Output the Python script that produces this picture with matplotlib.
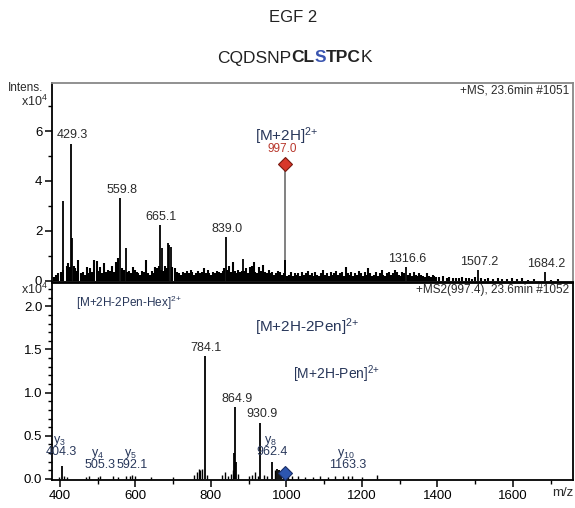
import matplotlib
matplotlib.use("Agg")
import matplotlib.pyplot as plt
from matplotlib.ticker import MultipleLocator, FormatStrFormatter
from matplotlib.offsetbox import TextArea, HPacker, AnnotationBbox
import matplotlib.transforms as mtransforms

plt.rcParams['font.family'] = ['Liberation Sans', 'DejaVu Sans']
plt.rcParams['mathtext.fontset'] = 'custom'
plt.rcParams['mathtext.rm'] = 'Liberation Sans'
plt.rcParams['mathtext.it'] = 'Liberation Sans:italic'
plt.rcParams['mathtext.bf'] = 'Liberation Sans:bold'

# ---------------- data (intensities in units of 1e4) ----------------
ms1_peak_mz = [409, 429.3, 433, 559.8, 575, 665.1, 670, 686, 690, 694, 839.0, 885, 1316.6, 1507.2, 1684.2]
ms1_peak_int = [3.2, 5.5, 1.7, 3.3, 1.3, 2.25, 1.3, 1.5, 1.45, 1.35, 1.75, 0.88, 0.56, 0.44, 0.36]
ms1_prec_peak_mz = [997.0]
ms1_prec_peak_int = [0.84]

ms1_noise_mz = [
    384, 390, 396, 402, 407, 418, 422, 426, 437, 440,
    444, 449, 455, 461, 466, 471, 476, 481, 486, 491,
    497, 502, 507, 512, 518, 523, 528, 533, 538, 543,
    548, 553, 564, 569, 578, 583, 588, 593, 598, 603,
    608, 613, 618, 623, 628, 633, 638, 643, 648, 653,
    658, 662, 668, 674, 679, 684, 698, 706, 711, 716,
    721, 726, 731, 736, 741, 746, 751, 756, 761, 766,
    771, 776, 781, 786, 791, 796, 801, 806, 811, 816,
    821, 826, 831, 836, 843, 848, 853, 858, 863, 868,
    873, 878, 883, 888, 893, 898, 903, 908, 913, 918,
    923, 928, 933, 938, 943, 948, 953, 958, 963, 968,
    973, 978, 983, 988, 993, 1002, 1007, 1012, 1017, 1022,
    1027, 1032, 1037, 1042, 1047, 1052, 1057, 1062, 1067, 1072,
    1077, 1082, 1087, 1092, 1097, 1102, 1107, 1112, 1117, 1122,
    1127, 1132, 1137, 1142, 1147, 1152, 1157, 1162, 1167, 1172,
    1177, 1182, 1187, 1192, 1197, 1202, 1207, 1212, 1217, 1222,
    1227, 1232, 1237, 1242, 1247, 1252, 1257, 1262, 1267, 1272,
    1277, 1282, 1287, 1292, 1297, 1302, 1307, 1312, 1322, 1327,
    1332, 1337, 1342, 1347, 1352, 1357, 1362, 1367, 1372, 1377,
    1382, 1387, 1392, 1397, 1405, 1415, 1425, 1432, 1440, 1450,
    1458, 1466, 1475, 1484, 1492, 1500, 1515, 1525, 1535, 1548,
    1560, 1572, 1585, 1598, 1612, 1625, 1640, 1655, 1700, 1720,
]
ms1_noise_int = [
    0.15, 0.25, 0.30, 0.35, 0.45, 0.60, 0.70, 0.55, 0.60, 0.50,
    0.40, 0.85, 0.30, 0.35, 0.25, 0.55, 0.30, 0.50, 0.35, 0.85,
    0.80, 0.40, 0.55, 0.30, 0.70, 0.35, 0.45, 0.40, 0.60, 0.35,
    0.75, 0.90, 0.50, 0.45, 0.35, 0.40, 0.30, 0.55, 0.45, 0.35,
    0.30, 0.25, 0.40, 0.35, 0.85, 0.30, 0.25, 0.40, 0.30, 0.55,
    0.50, 0.60, 0.45, 0.40, 0.60, 0.50, 0.55, 0.50, 0.35, 0.30,
    0.25, 0.35, 0.30, 0.40, 0.30, 0.45, 0.35, 0.25, 0.30, 0.40,
    0.30, 0.35, 0.50, 0.30, 0.45, 0.30, 0.25, 0.35, 0.30, 0.40,
    0.35, 0.30, 0.40, 0.50, 0.45, 0.60, 0.35, 0.75, 0.40, 0.30,
    0.45, 0.35, 0.40, 0.40, 0.50, 0.30, 0.55, 0.60, 0.75, 0.35,
    0.30, 0.55, 0.40, 0.65, 0.35, 0.30, 0.45, 0.30, 0.35, 0.25,
    0.30, 0.40, 0.35, 0.25, 0.30, 0.20, 0.25, 0.35, 0.20, 0.30,
    0.25, 0.30, 0.20, 0.35, 0.25, 0.30, 0.40, 0.25, 0.30, 0.20,
    0.35, 0.25, 0.20, 0.30, 0.45, 0.25, 0.30, 0.20, 0.35, 0.25,
    0.30, 0.40, 0.25, 0.30, 0.35, 0.20, 0.55, 0.30, 0.25, 0.35,
    0.20, 0.30, 0.25, 0.40, 0.30, 0.20, 0.35, 0.25, 0.50, 0.30,
    0.20, 0.25, 0.35, 0.20, 0.30, 0.45, 0.25, 0.20, 0.30, 0.35,
    0.25, 0.30, 0.45, 0.35, 0.25, 0.20, 0.35, 0.30, 0.25, 0.30,
    0.20, 0.35, 0.25, 0.20, 0.30, 0.25, 0.20, 0.15, 0.30, 0.20,
    0.15, 0.25, 0.20, 0.15, 0.15, 0.20, 0.12, 0.15, 0.10, 0.12,
    0.10, 0.15, 0.10, 0.12, 0.08, 0.15, 0.10, 0.08, 0.12, 0.08,
    0.10, 0.06, 0.08, 0.10, 0.06, 0.12, 0.05, 0.08, 0.05, 0.08,
]
ms1_labels = ["429.3", "559.8", "665.1", "839.0", "1316.6", "1507.2", "1684.2"]
ms1_label_mz = [429.3, 559.8, 665.1, 839.0, 1316.6, 1507.2, 1684.2]
ms1_label_int = [5.5, 3.3, 2.25, 1.75, 0.56, 0.44, 0.36]
precursor_mz = 997.0
precursor_int = 4.7

ms2_peak_mz = [404.3, 784.1, 862, 864.9, 867, 930.9, 962.4, 975, 980, 986]
ms2_peak_int = [0.15, 1.42, 0.30, 0.83, 0.20, 0.65, 0.20, 0.12, 0.10, 0.09]
ms2_noise_mz = [398, 412, 420, 470, 478, 500, 505.3, 540, 555, 575,
                585, 592.1, 598, 640, 700, 755, 762, 768, 772, 776,
                790, 830, 838, 845, 852, 858, 872, 900, 910, 918,
                925, 940, 948, 970, 991, 1005, 1015, 1030, 1050, 1070,
                1090, 1110, 1130, 1150, 1163.3, 1175, 1200, 1240]
ms2_noise_int = [0.02, 0.03, 0.02, 0.02, 0.03, 0.02, 0.03, 0.03, 0.02, 0.03,
                 0.04, 0.05, 0.03, 0.02, 0.02, 0.05, 0.08, 0.12, 0.10, 0.12,
                 0.05, 0.05, 0.08, 0.04, 0.06, 0.10, 0.06, 0.03, 0.05, 0.08,
                 0.04, 0.05, 0.04, 0.10, 0.06, 0.05, 0.04, 0.03, 0.02, 0.02,
                 0.03, 0.02, 0.03, 0.04, 0.03, 0.03, 0.02, 0.05]
ms2_labels = ["784.1", "864.9", "930.9"]
ms2_label_mz = [784.1, 864.9, 930.9]
ms2_label_int = [1.42, 0.83, 0.65]
y_ions = ["3", "4", "5", "8", "10"]
y_ion_mz = [404.3, 505.3, 592.1, 962.4, 1163.3]
y_ion_text = ["404.3", "505.3", "592.1", "962.4", "1163.3"]
y_ion_level = [1, 0, 0, 1, 0]
ms2_precursor_mz = 997.4
ms2_precursor_int = 0.07

xticks = [400, 600, 800, 1000, 1200, 1400, 1600]

# ---------------- figure ----------------
fig = plt.figure(figsize=(5.75, 5.08), dpi=100)
ax1 = fig.add_axes([0.0904, 0.4449, 0.906, 0.3917])
ax2 = fig.add_axes([0.0904, 0.0551, 0.906, 0.3878])

navy = '#28375a'
txt = '#2a2a2a'
SUP = "$^{2{+}}$"

for ax in (ax1, ax2):
    ax.set_xlim(379, 1759)
    for s in ax.spines.values():
        s.set_linewidth(1.3)
    ax.tick_params(axis='y', which='major', direction='out', length=5, width=1.1, labelsize=9.5, pad=2)
    ax.tick_params(axis='y', which='minor', direction='out', length=3, width=1.0)

# top panel
ax1.vlines(ms1_noise_mz, 0, ms1_noise_int, color='black', lw=1.5)
ax1.vlines(ms1_peak_mz, 0, ms1_peak_int, color='black', lw=1.3)
ax1.vlines([precursor_mz], 0, [precursor_int], color='#777777', lw=1.3, zorder=3)
ax1.vlines(ms1_prec_peak_mz, 0, ms1_prec_peak_int, color='black', lw=1.4, zorder=3.5)
ax1.plot([precursor_mz], [precursor_int], marker='D', ms=7, mfc='#d8382a', mec='#7a1a10', mew=0.8, zorder=4)
ax1.set_ylim(-0.04, 7.92)
ax1.yaxis.set_major_locator(MultipleLocator(2))
ax1.yaxis.set_minor_locator(MultipleLocator(1))
ax1.yaxis.set_major_formatter(FormatStrFormatter('%d'))
ax1.set_xticks([])
ax1.spines['top'].set_color('#888888')
ax1.spines['right'].set_color('#888888')

for lab, mz, v in zip(ms1_labels, ms1_label_mz, ms1_label_int):
    ax1.annotate(lab, (mz, v), xytext=(1, 1.5), textcoords='offset points',
                 ha='center', va='bottom', fontsize=9, color=txt)
ax1.annotate("997.0", (precursor_mz, precursor_int), xytext=(-2, 6), textcoords='offset points',
             ha='center', va='bottom', fontsize=8.5, color='#b8372c')
ax1.text(916, 5.78, "[M+2H]" + SUP, fontsize=11, color=navy, ha='left', va='center')
ax1.text(0.992, 0.96, "+MS, 23.6min #1051", transform=ax1.transAxes, ha='right', va='center',
         fontsize=8.5, color=txt)

# bottom panel
ax2.vlines(ms2_noise_mz, 0, ms2_noise_int, color='black', lw=1.0)
ax2.vlines(ms2_peak_mz, 0, ms2_peak_int, color='black', lw=1.3)
ax2.plot([ms2_precursor_mz], [ms2_precursor_int], marker='D', ms=7, mfc='#2d56b0', mec='#1a2e66', mew=0.8, zorder=4)
ax2.set_ylim(-0.012, 2.27)
ax2.yaxis.set_major_locator(MultipleLocator(0.5))
ax2.yaxis.set_minor_locator(MultipleLocator(0.1))
ax2.yaxis.set_major_formatter(FormatStrFormatter('%.1f'))
ax2.set_xticks(xticks)
ax2.xaxis.set_minor_locator(MultipleLocator(100))
ax2.tick_params(axis='x', which='major', direction='out', length=5, width=1.1, labelsize=9.5, pad=2)
ax2.tick_params(axis='x', which='minor', direction='out', length=3, width=1.0)

for lab, mz, v in zip(ms2_labels, ms2_label_mz, ms2_label_int):
    ax2.annotate(lab, (mz, v), xytext=(1, 2), textcoords='offset points',
                 ha='center', va='bottom', fontsize=9, color=txt)
for n, mz, t, lvl in zip(y_ions, y_ion_mz, y_ion_text, y_ion_level):
    base = 0.31 if lvl else 0.16
    ax2.text(mz, base, t, ha='center', va='center', fontsize=9, color=navy)
    ax2.text(mz - 5, base + 0.135, "y$_{\\mathrm{" + n + "}}$", ha='center', va='center', fontsize=9, color=navy)

ax2.text(442, 2.04, "[M+2H-2Pen-Hex]" + SUP, fontsize=8.5, color=navy, ha='left', va='center')
ax2.text(917, 1.76, "[M+2H-2Pen]" + SUP, fontsize=11, color=navy, ha='left', va='center')
ax2.text(1017, 1.21, "[M+2H-Pen]" + SUP, fontsize=10, color=navy, ha='left', va='center')
ax2.text(0.992, 0.964, "+MS2(997.4), 23.6min #1052", transform=ax2.transAxes, ha='right', va='center',
         fontsize=8.5, color=txt)
trans = mtransforms.blended_transform_factory(ax2.transData, ax2.transAxes)
ax2.text(1732, -0.065, "m/z", transform=trans, ha='center', va='center', fontsize=9.5, color=txt)

# axis unit labels
fig.text(8 / 575, 1 - 88 / 508, "Intens.", ha='left', va='center', fontsize=8.5, color=txt)
fig.text(48 / 575, 1 - 101 / 508, "x10$^{\\mathrm{4}}$", ha='right', va='center', fontsize=9, color=txt)
fig.text(48 / 575, 1 - 289 / 508, "x10$^{\\mathrm{4}}$", ha='right', va='center', fontsize=9, color=txt)

# titles
fig.text(0.51, 1 - 18 / 508, "EGF 2", ha='center', va='center', fontsize=12, color='#222222')
seq_parts = [("CQDSNP", 'normal', '#222222'), ("CL", 'bold', '#222222'), ("S", 'bold', '#3a55b0'),
             ("TPC", 'bold', '#222222'), ("K", 'normal', '#222222')]
boxes = [TextArea(t, textprops=dict(fontsize=12.5, fontweight=w, color=c)) for t, w, c in seq_parts]
pack = HPacker(children=boxes, pad=0, sep=0, align='baseline')
ab = AnnotationBbox(pack, (0.513, 1 - 58 / 508), xycoords='figure fraction', frameon=False,
                    box_alignment=(0.5, 0.5))
fig.add_artist(ab)

fig.savefig("out.png", dpi=100)
